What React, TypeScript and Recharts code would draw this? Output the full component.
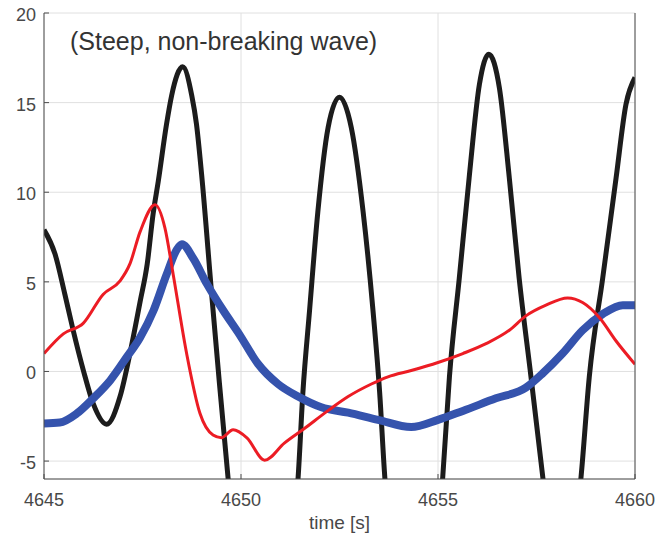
import React from 'react';
import { LineChart, Line, XAxis, YAxis, CartesianGrid } from 'recharts';

// Wave elevation (black)
const blackT = [4645.0, 4645.28, 4645.53, 4645.74, 4646.0, 4646.25, 4646.59, 4646.93, 4647.2, 4647.44, 4647.62, 4647.77, 4647.9, 4648.11, 4648.24, 4648.52, 4648.75, 4648.87, 4649.0, 4649.26, 4649.45, 4649.67, 4649.85, 4650.55, 4651.25, 4651.45, 4651.57, 4651.74, 4651.95, 4652.21, 4652.5, 4652.8, 4653.1, 4653.35, 4653.52, 4653.65, 4653.85, 4654.4, 4654.95, 4655.12, 4655.29, 4655.54, 4655.79, 4656.05, 4656.29, 4656.56, 4656.81, 4657.06, 4657.36, 4657.66, 4657.85, 4658.15, 4658.45, 4658.63, 4658.84, 4659.18, 4659.52, 4659.77, 4660.0];
const blackV = [7.9, 6.55, 4.3, 2.3, 0.05, -1.8, -2.95, -1.4, 1.2, 3.9, 6.0, 8.8, 10.6, 13.8, 15.4, 17.0, 15.4, 13.8, 11.0, 4.2, -0.6, -5.9, -10, -14, -10, -5.9, -1.2, 3.4, 8.9, 13.6, 15.3, 13.6, 8.9, 3.4, -1.2, -5.9, -10, -13, -10, -5.9, -0.3, 5.2, 10.8, 16.0, 17.7, 15.8, 10.8, 5.2, -0.3, -5.9, -9.5, -11, -9.5, -5.9, -0.3, 5.2, 10.8, 14.9, 16.4];

// Red series
const redT = [4645.0, 4645.49, 4646.0, 4646.5, 4646.93, 4647.18, 4647.44, 4647.82, 4648.07, 4648.28, 4648.62, 4648.96, 4649.29, 4649.5, 4649.8, 4650.15, 4650.6, 4651.1, 4651.6, 4652.2, 4652.72, 4653.31, 4653.73, 4654.32, 4655.0, 4655.63, 4656.22, 4656.81, 4657.23, 4657.74, 4658.29, 4658.67, 4659.1, 4659.52, 4660.0];
const redV = [1.0, 2.1, 2.7, 4.3, 5.05, 6.0, 7.8, 9.3, 8.0, 5.4, 1.0, -2.35, -3.55, -3.7, -3.25, -3.7, -4.95, -4.0, -3.2, -2.2, -1.4, -0.7, -0.3, 0.05, 0.5, 1.0, 1.55, 2.3, 3.1, 3.7, 4.1, 3.85, 3.0, 1.7, 0.4];

// Blue series
const blueT = [4645.0, 4645.4, 4645.83, 4646.25, 4646.68, 4647.1, 4647.44, 4647.78, 4648.11, 4648.37, 4648.5, 4648.79, 4649.13, 4649.55, 4649.95, 4650.43, 4650.94, 4651.45, 4652.04, 4652.72, 4653.48, 4654.32, 4655.0, 4655.63, 4656.47, 4657.23, 4657.66, 4658.16, 4658.67, 4659.18, 4659.69, 4660.0];
const blueV = [-2.9, -2.85, -2.35, -1.5, -0.5, 0.8, 1.9, 3.4, 5.4, 6.8, 7.1, 6.3, 4.9, 3.4, 2.1, 0.43, -0.7, -1.4, -2.0, -2.3, -2.7, -3.1, -2.7, -2.2, -1.5, -0.9, -0.1, 1.0, 2.3, 3.2, 3.7, 3.7];

const xTicks = [4645, 4650, 4655, 4660];
const yTicks = [-5, 0, 5, 10, 15, 20];
const xLabel = 'time [s]';
const annotation = '(Steep, non-breaking wave)';

const zip = (t: number[], v: number[]) => t.map((x, i) => ({ t: x, v: v[i] }));
const blackData = zip(blackT, blackV);
const redData = zip(redT, redV);
const blueData = zip(blueT, blueV);

const FONT = '"Liberation Sans", Arial, sans-serif';
const TEXT = '#484848';
const AXIS = '#4d4d4d';

const LeftTick = (props: any) => {
  const { x, y, payload } = props;
  return (
    <g>
      <text x={x} y={y} dy={8} textAnchor="end" fontFamily={FONT} fontSize={18} fill={TEXT}>
        {payload.value}
      </text>
      <line x1={x + 8} x2={x + 13} y1={y} y2={y} stroke={AXIS} />
    </g>
  );
};

const RightTick = (props: any) => {
  const { x, y } = props;
  return <line x1={x - 5} x2={x} y1={y} y2={y} stroke={AXIS} />;
};

const BottomTick = (props: any) => {
  const { x, y, payload } = props;
  return (
    <g>
      <text x={x} y={y + 27} textAnchor="middle" fontFamily={FONT} fontSize={18} fill={TEXT}>
        {payload.value}
      </text>
      <line x1={x} x2={x} y1={y - 5} y2={y} stroke={AXIS} />
    </g>
  );
};

const TopTick = (props: any) => {
  const { x, y } = props;
  return <line x1={x} x2={x} y1={y} y2={y + 5} stroke={AXIS} />;
};

const XLabelContent = (props: any) => {
  const vb = props.viewBox || {};
  return (
    <text x={vb.x + vb.width / 2} y={vb.y + 50} textAnchor="middle" fontFamily={FONT} fontSize={19} fill={TEXT}>
      {xLabel}
    </text>
  );
};

export default function App() {
  return (
    <div style={{ position: 'absolute', left: 0, top: 0, width: 657, height: 540, background: '#fff' }}>
      <LineChart width={657} height={540} margin={{ top: 13, right: 0, bottom: 0, left: 0 }}>
        <CartesianGrid stroke="#e0e0e0" strokeWidth={1} />
        <XAxis
          dataKey="t"
          type="number"
          domain={[4645, 4660]}
          ticks={xTicks}
          allowDataOverflow
          height={61}
          tickSize={0}
          tickMargin={0}
          tick={<BottomTick />}
          tickLine={false}
          axisLine={{ stroke: AXIS }}
          interval={0}
          label={<XLabelContent />}
        />
        <XAxis
          xAxisId="top"
          orientation="top"
          type="number"
          domain={[4645, 4660]}
          ticks={[4650, 4655]}
          height={0}
          tickSize={0}
          tickMargin={0}
          tick={<TopTick />}
          tickLine={false}
          axisLine={{ stroke: AXIS }}
          interval={0}
        />
        <YAxis
          type="number"
          domain={[-6, 20]}
          ticks={yTicks}
          allowDataOverflow
          width={44}
          tickSize={0}
          tickMargin={8}
          tick={<LeftTick />}
          tickLine={false}
          axisLine={{ stroke: AXIS }}
          interval={0}
        />
        <YAxis
          yAxisId="r"
          orientation="right"
          type="number"
          domain={[-6, 20]}
          ticks={[-5, 0, 5, 10, 15]}
          width={22}
          tickSize={0}
          tickMargin={0}
          tick={<RightTick />}
          tickLine={false}
          axisLine={{ stroke: AXIS }}
          interval={0}
        />
        <Line data={blackData} dataKey="v" type="monotone" stroke="#1c1c1c" strokeWidth={5} dot={false} isAnimationActive={false} />
        <Line data={blueData} dataKey="v" type="monotone" stroke="#3553ad" strokeWidth={8} dot={false} isAnimationActive={false} />
        <Line data={redData} dataKey="v" type="monotone" stroke="#ec1c24" strokeWidth={3} dot={false} isAnimationActive={false} />
      </LineChart>
      <svg width={657} height={540} style={{ position: 'absolute', left: 0, top: 0, pointerEvents: 'none' }}>
        <text x={70} y={50} fontFamily={FONT} fontSize={25} fill="#333">
          {annotation}
        </text>
      </svg>
    </div>
  );
}
